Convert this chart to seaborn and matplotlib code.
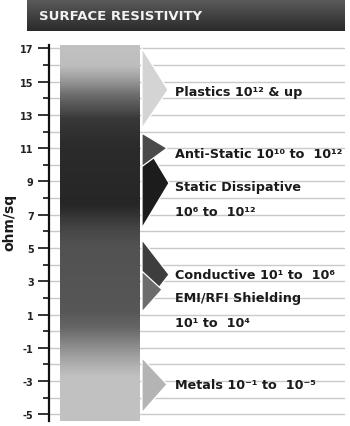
import numpy as np
import matplotlib
matplotlib.use("Agg")
import matplotlib.pyplot as plt
from matplotlib.colors import LinearSegmentedColormap
from matplotlib.patches import Polygon
import seaborn as sns

# ---------------- data ----------------
categories = ["Plastics", "Anti-Static", "Static Dissipative",
              "Conductive", "EMI/RFI Shielding", "Metals"]
range_low = [12.2, 9.9, 6.2, 1.3, 1.15, -4.9]
range_high = [17.0, 11.9, 11.6, 5.5, 3.6, -1.6]
range_tip = [14.5, 11.0, 8.9, 3.4, 2.5, -3.2]
label_lines = [
    ["Plastics 10¹² & up"],
    ["Anti-Static 10¹⁰ to  10¹²"],
    ["Static Dissipative", "10⁶ to  10¹²"],
    ["Conductive 10¹ to  10⁶"],
    ["EMI/RFI Shielding", "10¹ to  10⁴"],
    ["Metals 10⁻¹ to  10⁻⁵"],
]
label_y = [14.4, 10.7, 8.7, 3.4, 2.0, -3.2]
tick_values = list(range(-5, 18, 2))
tick_labels = [str(v) for v in tick_values]
# gray level of the gradient bar along the scale
grad_values = [-5.4, -2.8, -1.9, -0.8, 0.2, 1.2, 5.2, 6.2, 7.6, 11.2, 12.8, 14.2, 15.3, 16.0, 17.2]
grad_grays = [0.76, 0.76, 0.67, 0.53, 0.40, 0.34, 0.32, 0.27, 0.15, 0.17, 0.22, 0.42, 0.63, 0.74, 0.76]

# ---------------- style ----------------
sns.set_theme(style="white")
plt.rcParams["font.family"] = ["DejaVu Sans"]

shape_colors = ["#d4d4d4", "#4a4a4a", "#1c1c1c", "#3e3e3e", "#6c6c6c", "#b4b4b4"]
draw_order = [0, 2, 1, 3, 4, 5]

W, H = 350, 427
fig = plt.figure(figsize=(W / 100, H / 100), dpi=100)

# title bar
tax = fig.add_axes([27 / W, (H - 32) / H, 318 / W, 31 / H])
tgrad = np.linspace(0, 1, 64).reshape(-1, 1)
tcmap = LinearSegmentedColormap.from_list("t", ["#5a5a5a", "#2a2a2a"])
tax.imshow(tgrad, aspect="auto", cmap=tcmap, extent=(0, 1, 0, 1), origin="upper")
tax.set_axis_off()
tax.text(12 / 318, 0.5, "SURFACE RESISTIVITY", color="#f2f2f2",
         fontsize=9.5, fontweight="bold", va="center", ha="left",
         transform=tax.transAxes)

# main axes: x in pixel-like layout units
ax = fig.add_axes([49 / W, (H - 422) / H, (345 - 49) / W, (422 - 46) / H])
ax.set_xlim(49, 345)
ax.set_ylim(-5.4, 17.2)

# grid lines
ax.set_yticks(range(-5, 18), minor=True)
ax.set_yticks(tick_values)
ax.set_yticklabels(tick_labels)
for v in range(-5, 18):
    ax.axhline(v, color="#c9c9c9", lw=1.0, zorder=0)

# gradient bar
gcmap = LinearSegmentedColormap.from_list(
    "g", [((v - grad_values[0]) / (grad_values[-1] - grad_values[0]), (g, g, g))
          for v, g in zip(grad_values, grad_grays)])
col = np.linspace(grad_values[0], grad_values[-1], 400).reshape(-1, 1)
ax.imshow(col, aspect="auto", cmap=gcmap, origin="lower",
          extent=(60, 140, grad_values[0], grad_values[-1]), zorder=2,
          vmin=grad_values[0], vmax=grad_values[-1])

# arrow shapes
tip_x = [168, 167, 169, 169, 162, 167]
for i in draw_order:
    poly = Polygon([(142, range_high[i]), (tip_x[i], range_tip[i]), (142, range_low[i])],
                   closed=True, facecolor=shape_colors[i], edgecolor="white",
                   lw=0.9, zorder=3)
    ax.add_patch(poly)

# labels
for lines, y in zip(label_lines, label_y):
    for k, line in enumerate(lines):
        ax.text(175, y - 1.5 * k, line, fontsize=9.2, fontweight="bold",
                color="#1a1a1a", va="center", ha="left", zorder=4)

# axes styling
for s in ["top", "right", "bottom"]:
    ax.spines[s].set_visible(False)
ax.spines["left"].set_color("#111111")
ax.spines["left"].set_linewidth(1.6)
ax.set_xticks([])
ax.tick_params(axis="y", which="major", direction="out", length=8, width=1.2,
               color="#111111", pad=3, labelsize=7, labelcolor="#222222", left=True)
ax.tick_params(axis="y", which="minor", direction="out", length=4, width=1.2,
               color="#111111", left=True)
for t in ax.get_yticklabels():
    t.set_fontweight("bold")
ax.set_ylabel("ohm/sq", fontsize=10, fontweight="bold", color="#1a1a1a")
ax.yaxis.set_label_coords(-33 / 296, 0.5 + 12 / 376)

fig.savefig("out.png", dpi=100)
